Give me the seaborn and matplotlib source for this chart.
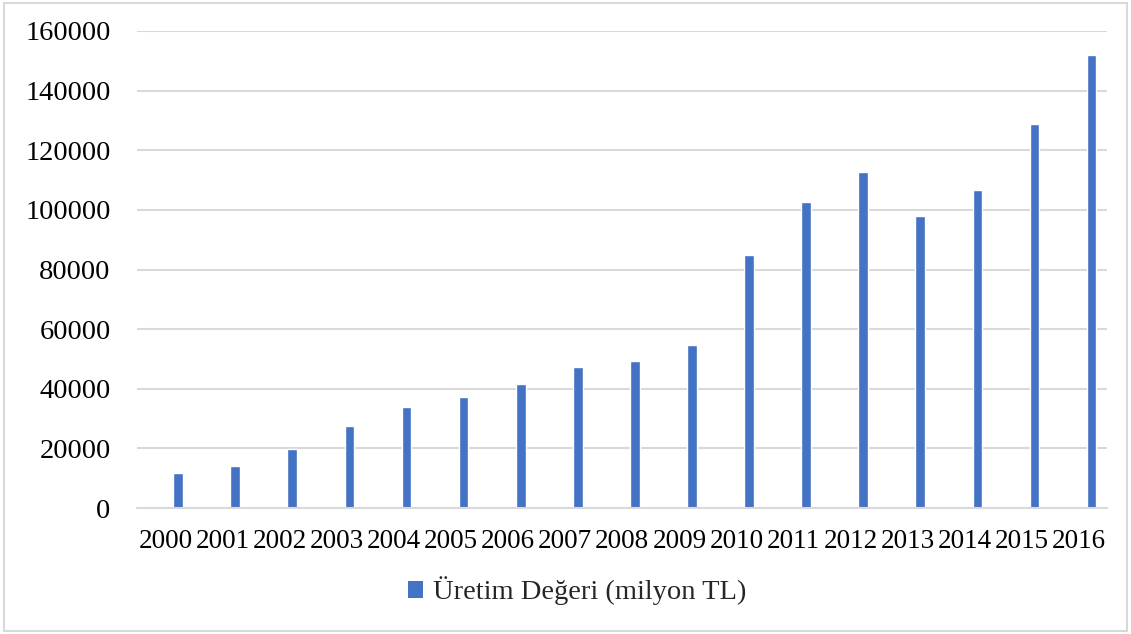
import numpy as np
import pandas as pd
import seaborn as sns
import matplotlib.pyplot as plt
from matplotlib.patches import Patch, Rectangle

plt.switch_backend("Agg")

# Data
years = [str(y) for y in range(2000, 2017)]
values = [11700, 14200, 19700, 27600, 33800, 37200, 41600, 47300, 49200,
          54600, 85000, 102600, 112700, 98000, 106600, 128800, 152000]
series_label = "Üretim Değeri (milyon TL)"
y_ticks = list(range(0, 160001, 20000))

BAR_COLOR = "#4472C4"
GRID_COLOR = "#D9D9D9"
FONT_SIZE = 20.5

sns.set_theme(style="white")
plt.rcParams["font.family"] = ["Liberation Serif", "DejaVu Serif"]
plt.rcParams["font.size"] = FONT_SIZE

df = pd.DataFrame({"year": years, "value": values})

fig = plt.figure(figsize=(11.31, 6.34), dpi=100)
ax = fig.add_axes([137 / 1131, 1 - 508 / 634, (1107 - 137) / 1131, (508 - 31) / 634])

sns.barplot(data=df, x="year", y="value", color=BAR_COLOR, saturation=1,
            width=0.17, ax=ax)

# the original has the bars sitting a bit right of their category labels
ax.set_xlim(-0.72, 16.27)
ax.set_xticks(np.arange(len(years)) - 0.22)
ax.set_xticklabels(years)
ax.set_ylim(0, 160000)
ax.set_yticks(y_ticks)
ax.set_yticklabels([str(t) for t in y_ticks])
ax.yaxis.grid(True, color=GRID_COLOR, linewidth=1.5)
ax.set_axisbelow(True)
ax.set_xlabel("")
ax.set_ylabel("")
for side in ["top", "right", "left"]:
    ax.spines[side].set_visible(False)
ax.spines["bottom"].set_color(GRID_COLOR)
ax.spines["bottom"].set_linewidth(1.5)
ax.tick_params(axis="both", length=0, colors="black")
ax.tick_params(axis="y", pad=19, labelsize=FONT_SIZE)
ax.tick_params(axis="x", pad=15, labelsize=19.5)

# chart border
fig.patches.append(Rectangle((4 / 1131, 3 / 634), 1 - 8 / 1131, 1 - 6 / 634,
                             transform=fig.transFigure, fill=False,
                             edgecolor=GRID_COLOR, linewidth=1.5))

handles = [Patch(facecolor=BAR_COLOR, edgecolor="none")]
fig.legend(handles, [series_label], loc="center", bbox_to_anchor=(577 / 1131, 1 - 591 / 634),
           frameon=False, fontsize=FONT_SIZE, handlelength=0.55, handleheight=0.55,
           handletextpad=0.35)

fig.savefig("out.png", dpi=100)
